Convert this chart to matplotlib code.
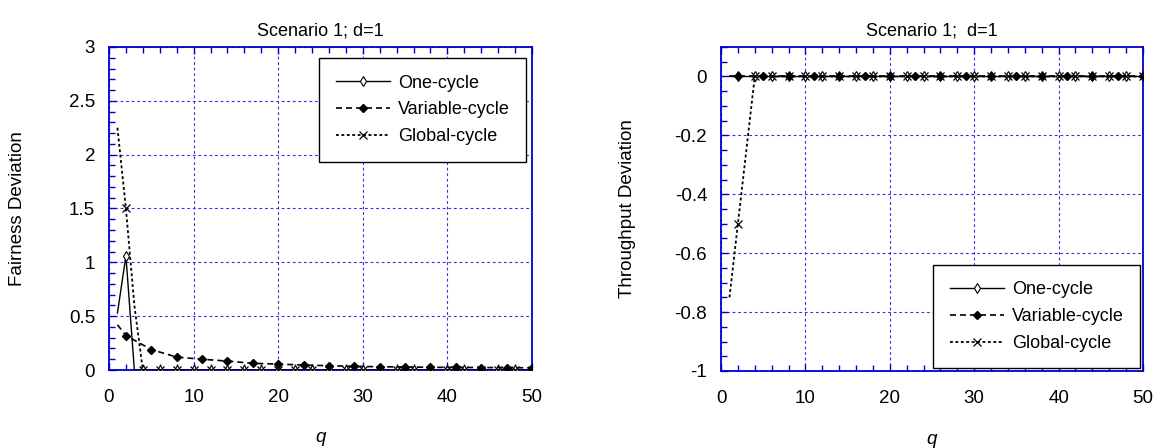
import matplotlib
matplotlib.use('Agg')
import matplotlib.pyplot as plt
from matplotlib.ticker import MultipleLocator, FormatStrFormatter

plt.rcParams['font.family'] = ['Liberation Sans', 'DejaVu Sans']
plt.rcParams['axes.unicode_minus'] = False

# 队列长度 q
q = list(range(1, 51))

# Variable-cycle 只取了若干采样点
var_q = [1, 2, 5, 8, 11, 14, 17, 20, 23, 26, 29, 32, 35, 38, 41, 44, 47, 50]

# 公平性偏差
one_fair = [0.53, 1.06] + [0.0] * 48
var_fair = [0.42, 0.32, 0.19, 0.12, 0.10, 0.083, 0.062, 0.055, 0.046,
            0.040, 0.034, 0.030, 0.028, 0.025, 0.024, 0.023, 0.022, 0.020]
glob_fair = [2.25, 1.50, 0.60] + [0.0] * 47

# 吞吐量偏差
one_thr = [0.0] * 50
var_thr = [0.0] * 18
glob_thr = [-0.75, -0.50, -0.25] + [0.0] * 47

names = ['One-cycle', 'Variable-cycle', 'Global-cycle']

BLUE = '#0000CC'
GRID = '#3030EE'
FS = 13.5     # 刻度/轴标签
FS_L = 13     # 图例、标题


def draw(ax, one, var, glob):
    ax.plot(q, one, color='k', lw=1.0, marker='d', ms=5, mfc='white', mec='k', mew=0.8,
            markevery=slice(1, None, 2), label=names[0], zorder=3)
    ax.plot(var_q, var, color='k', lw=1.2, dashes=(3.6, 2.4), marker='D', ms=4.5, mfc='k', mec='k',
            markevery=slice(1, None), label=names[1], zorder=5)
    ax.plot(q, glob, color='k', lw=1.3, dashes=(1.6, 1.4), marker='x', ms=5.5, mew=0.9,
            markevery=slice(1, None, 2), label=names[2], zorder=4)


def style(ax):
    ax.set_xlim(0, 50)
    ax.xaxis.set_major_locator(MultipleLocator(10))
    ax.xaxis.set_minor_locator(MultipleLocator(2))
    ax.grid(True, which='major', color=GRID, lw=0.8, linestyle=(0, (2.5, 2.5)))
    for s in ax.spines.values():
        s.set_color(BLUE)
        s.set_linewidth(1.3)
    ax.tick_params(which='both', direction='in', color=BLUE, top=True, right=False,
                   labelsize=FS, labelcolor='k')
    ax.tick_params(which='major', length=5, width=1.0)
    ax.tick_params(which='minor', length=4, width=1.0)
    ax.tick_params(axis='x', pad=14)
    ax.tick_params(axis='y', pad=10)
    ax.set_xlabel('q', fontsize=FS, style='italic', va='center')
    ax.xaxis.set_label_coords(0.5, -0.21)


def add_legend(ax, loc, anchor):
    leg = ax.legend(loc=loc, bbox_to_anchor=anchor, borderaxespad=0,
                    fontsize=FS_L, handlelength=3.0, handletextpad=0.45, labelspacing=0.55,
                    borderpad=0.9, fancybox=False, framealpha=1, edgecolor='k')
    leg.get_frame().set_linewidth(1.0)
    leg.set_zorder(10)


fig = plt.figure(figsize=(11.57, 4.48), dpi=100)
ax1 = fig.add_axes([0.0942, 0.1741, 0.3656, 0.721])
ax2 = fig.add_axes([0.6232, 0.1719, 0.3647, 0.7232])

# 左图: Fairness
draw(ax1, one_fair, var_fair, glob_fair)
style(ax1)
ax1.set_ylim(0, 3)
ax1.yaxis.set_major_locator(MultipleLocator(0.5))
ax1.yaxis.set_minor_locator(MultipleLocator(0.1))
ax1.yaxis.set_major_formatter(FormatStrFormatter('%g'))
ax1.set_title('Scenario 1; d=1', fontsize=FS_L, pad=8)
ax1.set_ylabel('Fairness Deviation', fontsize=FS, va='center')
ax1.yaxis.set_label_coords(-0.216, 0.5)
add_legend(ax1, 'upper right', (0.986, 0.965))

# 右图: Throughput
draw(ax2, one_thr, var_thr, glob_thr)
style(ax2)
ax2.set_ylim(-1, 0.1)
ax2.set_yticks([-1, -0.8, -0.6, -0.4, -0.2, 0])
ax2.yaxis.set_minor_locator(MultipleLocator(0.05))
ax2.yaxis.set_major_formatter(FormatStrFormatter('%g'))
ax2.set_title('Scenario 1;  d=1', fontsize=FS_L, pad=8)
ax2.set_ylabel('Throughput Deviation', fontsize=FS, va='center')
ax2.yaxis.set_label_coords(-0.2216, 0.5)
add_legend(ax2, 'lower right', (0.993, 0.009))

fig.savefig('out.png', dpi=100)
